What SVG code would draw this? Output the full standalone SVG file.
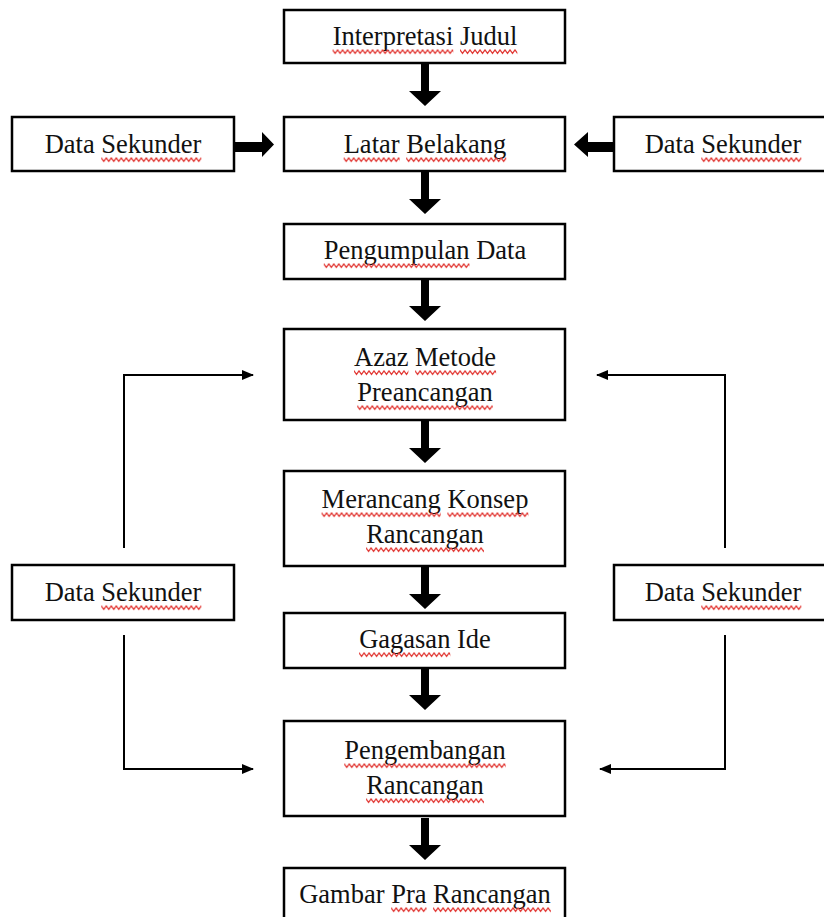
<svg xmlns="http://www.w3.org/2000/svg" width="824" height="917" viewBox="0 0 824 917">
<style>
.box{fill:#fff;stroke:#000;stroke-width:2.5}
.t{font-family:"Liberation Serif","Times New Roman",serif;font-size:28px;fill:#111;text-anchor:middle}
.sq{fill:url(#wave)}
.thin{fill:none;stroke:#000;stroke-width:2}
.blk{fill:#000}
</style>
<defs>
<pattern id="wave" patternUnits="userSpaceOnUse" width="5" height="6">
<path d="M-1.25,2 L0,1 L2.5,4.5 L5,1 L6.25,2" fill="none" stroke="#e23a36" stroke-width="1.3"/>
</pattern>
<polygon id="vArrow" points="-4,0 4,0 4,27 16,27 0,42 -16,27 -4,27"/>
<marker id="ah" markerWidth="12" markerHeight="10" refX="11" refY="5" orient="auto" markerUnits="userSpaceOnUse">
<path d="M0,0 L12,5 L0,10 Z" fill="#000"/>
</marker>
</defs>
<rect width="824" height="917" fill="#fff"/>

<g id="connectors">
<use href="#vArrow" class="blk" x="425" y="64"/>
<use href="#vArrow" class="blk" x="425" y="172"/>
<use href="#vArrow" class="blk" x="425" y="279"/>
<use href="#vArrow" class="blk" x="425" y="421"/>
<use href="#vArrow" class="blk" x="425" y="567"/>
<use href="#vArrow" class="blk" x="425" y="668"/>
<use href="#vArrow" class="blk" x="425" y="818"/>
<polygon class="blk" points="235,142 262,142 262,132 274,144.5 262,157 262,152 235,152"/>
<polygon class="blk" points="613,142 588,142 588,132 574,144.5 588,157 588,152 613,152"/>
<polyline class="thin" points="124,548 124,375 253,375" marker-end="url(#ah)"/>
<polyline class="thin" points="725,548 725,375 597,375" marker-end="url(#ah)"/>
<polyline class="thin" points="124,635 124,769 253,769" marker-end="url(#ah)"/>
<polyline class="thin" points="725,635 725,769 600,769" marker-end="url(#ah)"/>
</g>

<g id="n-interpretasi">
<rect class="box" x="284" y="10" width="281" height="53"/>
<text class="t" x="425" y="45" textLength="184.7" lengthAdjust="spacingAndGlyphs">Interpretasi Judul</text>
<rect class="sq" transform="translate(332.6,49)" width="120.7" height="6"/>
<rect class="sq" transform="translate(460,49)" width="57.3" height="6"/>
</g>

<g id="n-data1">
<rect class="box" x="12" y="117" width="222" height="54"/>
<text class="t" x="123" y="153" textLength="156.7" lengthAdjust="spacingAndGlyphs">Data Sekunder</text>
<rect class="sq" transform="translate(101.3,157)" width="100" height="6"/>
</g>

<g id="n-latar">
<rect class="box" x="284" y="117" width="281" height="54"/>
<text class="t" x="425" y="153" textLength="162.6" lengthAdjust="spacingAndGlyphs">Latar Belakang</text>
<rect class="sq" transform="translate(343.7,157)" width="56" height="6"/>
<rect class="sq" transform="translate(406.2,157)" width="100" height="6"/>
</g>

<g id="n-data2">
<rect class="box" x="614" y="117" width="220" height="54"/>
<text class="t" x="723" y="153" textLength="156.7" lengthAdjust="spacingAndGlyphs">Data Sekunder</text>
<rect class="sq" transform="translate(701.3,157)" width="100" height="6"/>
</g>

<g id="n-pengumpulan">
<rect class="box" x="284" y="224" width="281" height="55"/>
<text class="t" x="425" y="259" textLength="202.4" lengthAdjust="spacingAndGlyphs">Pengumpulan Data</text>
<rect class="sq" transform="translate(323.8,263)" width="145.7" height="6"/>
</g>

<g id="n-azaz">
<rect class="box" x="284" y="329" width="281" height="91"/>
<text class="t" x="425" y="366" textLength="142" lengthAdjust="spacingAndGlyphs">Azaz Metode</text>
<text class="t" x="425" y="401" textLength="135.4" lengthAdjust="spacingAndGlyphs">Preancangan</text>
<rect class="sq" transform="translate(354,370)" width="54.4" height="6"/>
<rect class="sq" transform="translate(415.1,370)" width="81" height="6"/>
<rect class="sq" transform="translate(357.3,405)" width="135.4" height="6"/>
</g>

<g id="n-merancang">
<rect class="box" x="284" y="471" width="281" height="95"/>
<text class="t" x="425" y="508" textLength="206.8" lengthAdjust="spacingAndGlyphs">Merancang Konsep</text>
<text class="t" x="425" y="543" textLength="117.7" lengthAdjust="spacingAndGlyphs">Rancangan</text>
<rect class="sq" transform="translate(321.6,512)" width="119.2" height="6"/>
<rect class="sq" transform="translate(447.4,512)" width="81" height="6"/>
<rect class="sq" transform="translate(366.1,547)" width="117.8" height="6"/>
</g>

<g id="n-data3">
<rect class="box" x="12" y="565" width="222" height="55"/>
<text class="t" x="123" y="601" textLength="156.7" lengthAdjust="spacingAndGlyphs">Data Sekunder</text>
<rect class="sq" transform="translate(101.3,605)" width="100" height="6"/>
</g>

<g id="n-data4">
<rect class="box" x="614" y="565" width="220" height="55"/>
<text class="t" x="723" y="601" textLength="156.7" lengthAdjust="spacingAndGlyphs">Data Sekunder</text>
<rect class="sq" transform="translate(701.3,605)" width="100" height="6"/>
</g>

<g id="n-gagasan">
<rect class="box" x="284" y="613" width="281" height="55"/>
<text class="t" x="425" y="648" textLength="131.7" lengthAdjust="spacingAndGlyphs">Gagasan Ide</text>
<rect class="sq" transform="translate(359.1,652)" width="91.2" height="6"/>
</g>

<g id="n-pengembangan">
<rect class="box" x="284" y="721" width="281" height="95"/>
<text class="t" x="425" y="759" textLength="161.4" lengthAdjust="spacingAndGlyphs">Pengembangan</text>
<text class="t" x="425" y="794" textLength="117.7" lengthAdjust="spacingAndGlyphs">Rancangan</text>
<rect class="sq" transform="translate(344.3,763)" width="161.4" height="6"/>
<rect class="sq" transform="translate(366.1,798)" width="117.8" height="6"/>
</g>

<g id="n-gambar">
<rect class="box" x="284" y="868" width="281" height="60"/>
<text class="t" x="425" y="903" textLength="251.7" lengthAdjust="spacingAndGlyphs">Gambar Pra Rancangan</text>
<rect class="sq" transform="translate(391.2,907)" width="35.3" height="6"/>
<rect class="sq" transform="translate(433.1,907)" width="117.7" height="6"/>
</g>
</svg>
